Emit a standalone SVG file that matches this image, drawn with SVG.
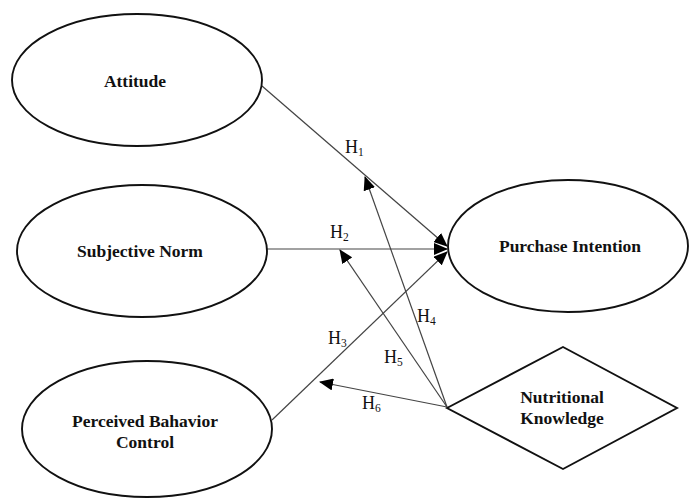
<svg xmlns="http://www.w3.org/2000/svg" width="689" height="498" viewBox="0 0 689 498">
<style>
.node{fill:#fff;stroke:#111;stroke-width:1.9}
.lbl{font-family:"Liberation Serif","Times New Roman",serif;font-weight:bold;font-size:17.5px;fill:#111;text-anchor:middle}
.edge{stroke:#444;stroke-width:1.2;fill:none;marker-end:url(#ah)}
.h{font-family:"Liberation Serif","Times New Roman",serif;font-size:18px;fill:#111}
.sub{font-size:11.5px}
</style>
<defs>
<marker id="ah" markerUnits="userSpaceOnUse" markerWidth="14" markerHeight="12" viewBox="0 0 14 12" refX="13" refY="6" orient="auto">
<path d="M0,0 L14,6 L0,12 Z" fill="#000"/>
</marker>
</defs>
<g id="connectors">
<path class="edge" d="M262,86 L447,246"/>
<path class="edge" d="M267,249 L447,249"/>
<path class="edge" d="M272,420 L447,252"/>
<path class="edge" d="M447,407 L365,177"/>
<path class="edge" d="M447,407 L340,250"/>
<path class="edge" d="M447,407 L320,382"/>
</g>
<g id="attitude">
<ellipse class="node" cx="137" cy="80" rx="125" ry="66"/>
<text class="lbl" x="135" y="87">Attitude</text>
</g>
<g id="subjective-norm">
<ellipse class="node" cx="142" cy="251" rx="125" ry="66"/>
<text class="lbl" x="140" y="257">Subjective Norm</text>
</g>
<g id="perceived-behavior-control">
<ellipse class="node" cx="147" cy="429" rx="125" ry="68"/>
<text class="lbl" x="145" y="427">Perceived Bahavior</text>
<text class="lbl" x="145" y="448">Control</text>
</g>
<g id="purchase-intention">
<ellipse class="node" cx="568" cy="246" rx="120" ry="66"/>
<text class="lbl" x="570" y="252">Purchase Intention</text>
</g>
<g id="nutritional-knowledge">
<polygon class="node" points="447,408 563,347 677,408 563,469"/>
<text class="lbl" x="562" y="403">Nutritional</text>
<text class="lbl" x="562" y="424">Knowledge</text>
</g>
<g id="labels">
<text class="h" x="345" y="153">H<tspan class="sub" dy="3">1</tspan></text>
<text class="h" x="330" y="238">H<tspan class="sub" dy="3">2</tspan></text>
<text class="h" x="328" y="344">H<tspan class="sub" dy="3">3</tspan></text>
<text class="h" x="417" y="322">H<tspan class="sub" dy="3">4</tspan></text>
<text class="h" x="384" y="363">H<tspan class="sub" dy="3">5</tspan></text>
<text class="h" x="362" y="409">H<tspan class="sub" dy="3">6</tspan></text>
</g>
</svg>
